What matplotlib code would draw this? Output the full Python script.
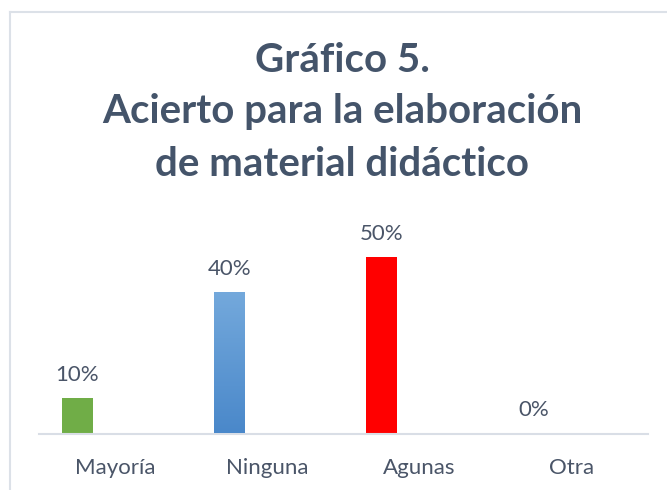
import matplotlib
matplotlib.use("Agg")
import matplotlib.pyplot as plt
import numpy as np
from matplotlib.colors import LinearSegmentedColormap
from matplotlib.lines import Line2D

categories = ["Mayoría", "Ninguna", "Agunas", "Otra"]
values = [10, 40, 50, 0]
labels = ["10%", "40%", "50%", "0%"]
title_lines = ["Gráfico 5.", "Acierto para la elaboración", "de material didáctico"]

W, H = 667, 490
DPI = 100
fig = plt.figure(figsize=(W / DPI, H / DPI), dpi=DPI)
fig.patch.set_facecolor("white")

FONT = "Lato"
TXT = "#4A5568"
TITLE_C = "#44546A"

# chart frame (left and top edges visible)
frame_c = "#DCE1E8"
fig.add_artist(Line2D([10 / W, 10 / W], [0, 1 - 12 / H], color=frame_c, lw=1.5, transform=fig.transFigure))
fig.add_artist(Line2D([10 / W, 1], [1 - 12 / H, 1 - 12 / H], color=frame_c, lw=1.5, transform=fig.transFigure))

ymax = 60
px_per = 176.5 / 50
ax_h = ymax * px_per
ax = fig.add_axes([39 / W, 56.5 / H, 609 / W, ax_h / H])
ax.set_xlim(-0.5, len(categories) - 0.5)
ax.set_ylim(0, ymax)

x = np.arange(len(categories))
offset = -0.25
bw = 31 / 152.25
colors = ["#70AD47", "#5B9BD5", "#FF0000", "#A5A5A5"]
bars = ax.bar(x + offset, values, width=bw, color=colors, zorder=2)

# gradient for the blue bar
cmap = LinearSegmentedColormap.from_list("g", ["#4A88CA", "#74A9DC"])
b = bars[1]
grad = np.linspace(0, 1, 256).reshape(-1, 1)
im = ax.imshow(grad, cmap=cmap, aspect="auto", origin="lower",
               extent=[b.get_x(), b.get_x() + b.get_width(), 0, b.get_height()], zorder=3)
im.set_clip_path(b)

for xi, v, lab in zip(x, values, labels):
    ax.annotate(lab, (xi + offset, v), xytext=(0, 17.5 * 72 / DPI), textcoords="offset points",
                ha="center", va="baseline", fontsize=16, color=TXT, family=FONT)

for s in ["top", "right", "left"]:
    ax.spines[s].set_visible(False)
ax.spines["bottom"].set_color("#D9DEE6")
ax.spines["bottom"].set_linewidth(1.5)
ax.set_yticks([])
ax.set_xticks(x, categories)
ax.tick_params(axis="x", length=0, pad=40 * 72 / DPI, labelsize=16, labelcolor=TXT)
for t in ax.get_xticklabels():
    t.set_family(FONT)
    t.set_va("baseline")

ys = [71.7, 123.5, 176.5]
for line, yy in zip(title_lines, ys):
    fig.text(342 / W, 1 - yy / H, line, ha="center", va="baseline", fontsize=29,
             fontweight="bold", color=TITLE_C, family=FONT)

fig.savefig("out.png", dpi=DPI)
